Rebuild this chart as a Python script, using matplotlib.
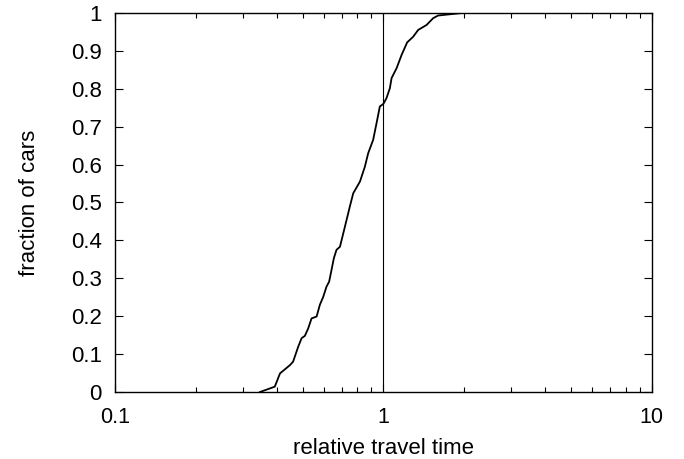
import matplotlib
matplotlib.use("Agg")
import matplotlib.pyplot as plt
from matplotlib.ticker import FixedLocator, FixedFormatter, LogLocator, NullFormatter

plt.rcParams['font.family'] = ['Liberation Sans', 'DejaVu Sans']

# cumulative distribution
travel_time = [0.347, 0.394, 0.412, 0.449, 0.461, 0.482, 0.496, 0.510, 0.525, 0.540,
               0.564, 0.580, 0.597, 0.614, 0.628, 0.641, 0.654, 0.669, 0.689, 0.719,
               0.750, 0.772, 0.818, 0.853, 0.878, 0.916, 0.943, 0.970, 1.000, 1.027,
               1.057, 1.073, 1.120, 1.169, 1.226, 1.291, 1.348, 1.448, 1.533, 1.600,
               1.927, 2.000]
fraction = [0.0, 0.014, 0.049, 0.071, 0.080, 0.120, 0.142, 0.148, 0.168, 0.194,
            0.199, 0.230, 0.251, 0.278, 0.291, 0.322, 0.353, 0.375, 0.383, 0.436,
            0.489, 0.524, 0.555, 0.594, 0.630, 0.665, 0.709, 0.753, 0.760, 0.775,
            0.801, 0.828, 0.854, 0.889, 0.922, 0.937, 0.955, 0.968, 0.986, 0.993,
            0.999, 1.0]

ref_x = 1.0
x_ticks = [0.1, 1, 10]
x_labels = ['0.1', '1', '10']
y_ticks = [0, 0.1, 0.2, 0.3, 0.4, 0.5, 0.6, 0.7, 0.8, 0.9, 1]
y_labels = ['0', '0.1', '0.2', '0.3', '0.4', '0.5', '0.6', '0.7', '0.8', '0.9', '1']

fig = plt.figure(figsize=(6.84, 4.59), dpi=100)
ax = fig.add_axes([0.168, 0.146, 0.785, 0.826])

ax.plot(travel_time, fraction, color='black', linewidth=1.3)
ax.axvline(ref_x, color='black', linewidth=0.8)

ax.set_xscale('log')
ax.set_xlim(0.1, 10)
ax.set_ylim(0, 1)
ax.xaxis.set_major_locator(FixedLocator(x_ticks))
ax.xaxis.set_major_formatter(FixedFormatter(x_labels))
ax.xaxis.set_minor_locator(LogLocator(base=10, subs=range(2, 10)))
ax.xaxis.set_minor_formatter(NullFormatter())
ax.yaxis.set_major_locator(FixedLocator(y_ticks))
ax.yaxis.set_major_formatter(FixedFormatter(y_labels))

ax.tick_params(which='both', direction='in', top=True, right=True, width=0.8)
ax.tick_params(which='major', length=6)
ax.tick_params(axis='x', which='major', pad=11, labelsize=15.5)
ax.tick_params(axis='y', which='major', pad=9.5, labelsize=16)
ax.tick_params(which='minor', length=3.5)
for s in ax.spines.values():
    s.set_linewidth(1.0)

ax.set_xlabel('relative travel time', fontsize=16, labelpad=7)
ax.set_ylabel('fraction of cars', fontsize=16, labelpad=22)

fig.savefig('out.png', dpi=100)
